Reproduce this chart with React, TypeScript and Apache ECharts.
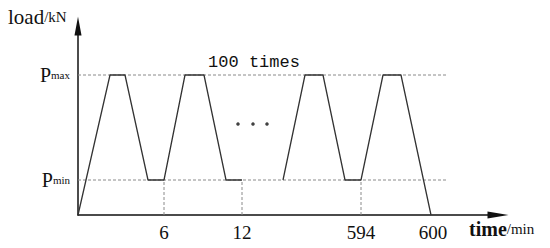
import React, { useEffect, useRef } from "react";
import * as echarts from "echarts";

// Schematic time positions (axis units) and load levels (Pmin = 1, Pmax = 4)
const cycleStartX = [0, 32, 47, 70, 86, 107, 126, 148, 164];
const cycleStartY = [0, 4, 4, 1, 1, 4, 4, 1, 1];
const cycleEndX = [205, 227, 245, 267, 283, 305, 323, 353];
const cycleEndY = [1, 4, 4, 1, 1, 4, 4, 0];
const tickX = [86, 164, 283, 355];
const tickLabels = ["6", "12", "594", "600"];
const levelY = [1, 4];
const levelLabels = ["min", "max"];
const guideEndX = 370;
const verticalGuideX = [86, 164, 283];
const ellipsisX = [160, 175, 189];
const ellipsisY = 2.6;

export default function App() {
  const ref = useRef<HTMLDivElement>(null);
  useEffect(() => {
    const chart = echarts.init(ref.current!, null, { renderer: "svg" });
    const serif = "Liberation Serif";
    const guideStyle = { color: "#8a8a8a", width: 1, type: [3, 2] as any };
    const guides: any[] = [];
    levelY.forEach((y) => {
      guides.push({
        type: "line",
        data: [[0, y], [guideEndX, y]],
        showSymbol: false,
        silent: true,
        lineStyle: guideStyle,
        z: 1,
      });
    });
    verticalGuideX.forEach((x) => {
      guides.push({
        type: "line",
        data: [[x, 0], [x, levelY[0]]],
        showSymbol: false,
        silent: true,
        lineStyle: guideStyle,
        z: 1,
      });
    });
    chart.setOption({
      animation: false,
      backgroundColor: "#ffffff",
      grid: { left: 78, right: 52, top: 26, bottom: 33 },
      xAxis: {
        type: "value",
        min: 0,
        max: 420,
        splitLine: { show: false },
        axisTick: { show: false },
        axisLine: {
          show: true,
          onZero: false,
          symbol: ["none", "triangle"],
          symbolSize: [7, 21],
          lineStyle: { color: "#111", width: 1.5 },
        },
        axisLabel: {
          customValues: tickX,
          formatter: (v: number) => {
            const i = tickX.indexOf(v);
            return i >= 0 ? tickLabels[i] : "";
          },
          margin: 8,
          fontFamily: serif,
          fontSize: 19,
          color: "#111",
        },
      },
      yAxis: {
        type: "value",
        min: 0,
        max: 5.4,
        splitLine: { show: false },
        axisTick: { show: false },
        axisLine: {
          show: true,
          onZero: false,
          symbol: ["none", "triangle"],
          symbolSize: [7, 19],
          lineStyle: { color: "#111", width: 1.5 },
        },
        axisLabel: {
          customValues: levelY,
          formatter: (v: number) => {
            const i = levelY.indexOf(v);
            return i >= 0 ? `{p|P}{s|${levelLabels[i]}}` : "";
          },
          margin: 8,
          rich: {
            p: { fontFamily: serif, fontSize: 20, color: "#111" },
            s: { fontFamily: serif, fontSize: 11, color: "#111" },
          },
        },
      },
      graphic: [
        {
          type: "text",
          left: 8,
          top: 6,
          style: {
            text: "{a|load}{b|/kN}",
            rich: {
              a: { fontFamily: serif, fontSize: 21, fill: "#111" },
              b: { fontFamily: serif, fontSize: 15, fill: "#111" },
            },
          },
        },
        {
          type: "text",
          left: 469,
          top: 219,
          style: {
            text: "{a|time}{b|/min}",
            rich: {
              a: { fontFamily: serif, fontSize: 20, fontWeight: "bold", fill: "#111" },
              b: { fontFamily: serif, fontSize: 15, fill: "#111" },
            },
          },
        },
        {
          type: "text",
          x: 254,
          y: 62,
          style: {
            text: "100 times",
            fontFamily: "Liberation Mono",
            fontSize: 17,
            fill: "#111",
            align: "center",
            verticalAlign: "middle",
          },
        },
      ],
      series: [
        ...guides,
        {
          type: "line",
          data: cycleStartX.map((x, i) => [x, cycleStartY[i]]),
          showSymbol: false,
          lineStyle: { color: "#333", width: 1.3 },
          z: 3,
        },
        {
          type: "line",
          data: cycleEndX.map((x, i) => [x, cycleEndY[i]]),
          showSymbol: false,
          lineStyle: { color: "#333", width: 1.3 },
          z: 3,
        },
        {
          type: "scatter",
          data: ellipsisX.map((x) => [x, ellipsisY]),
          symbolSize: 3.5,
          itemStyle: { color: "#111" },
          z: 3,
        },
      ],
    });
    return () => chart.dispose();
  }, []);
  return (
    <div
      ref={ref}
      style={{ position: "absolute", left: 0, top: 0, width: 550, height: 248 }}
    />
  );
}
